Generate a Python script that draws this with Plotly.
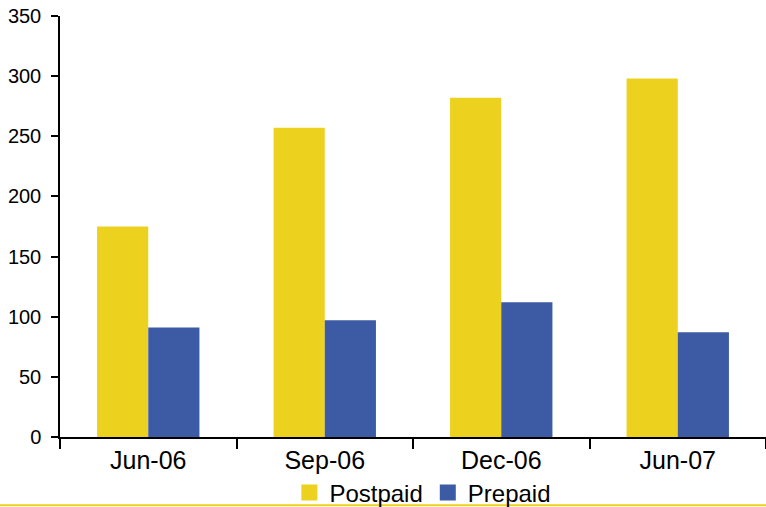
import plotly.graph_objects as go

# Subscribers by quarter (thousands)
quarters = ["Jun-06", "Sep-06", "Dec-06", "Jun-07"]
postpaid = [175, 257, 282, 298]
prepaid = [91, 97, 112, 87]
y_ticks = [0, 50, 100, 150, 200, 250, 300, 350]

YELLOW = "#ECD11E"
BLUE = "#3C5BA4"
REGULAR = "Liberation Sans, Arial, sans-serif"

fig = go.Figure()
fig.add_trace(go.Bar(x=quarters, y=postpaid, name="Postpaid",
                     marker=dict(color=YELLOW, line=dict(width=0)), showlegend=False))
fig.add_trace(go.Bar(x=quarters, y=prepaid, name="Prepaid",
                     marker=dict(color=BLUE, line=dict(width=0)), showlegend=False))

# Legend entries with larger square swatches
for name, color in [("Postpaid", YELLOW), ("Prepaid", BLUE)]:
    fig.add_trace(go.Scatter(x=[None], y=[None], mode="markers", name=name,
                             marker=dict(symbol="square", size=17, color=color,
                                         line=dict(width=0))))

fig.update_layout(
    width=766, height=507,
    margin=dict(l=60, r=0, t=16, b=70, autoexpand=False),
    paper_bgcolor="white", plot_bgcolor="white",
    barmode="group", bargap=0.42, bargroupgap=0,
    font=dict(family=REGULAR, color="black"),
    legend=dict(orientation="h", x=0.514, xanchor="center", y=-0.133, yanchor="middle",
                font=dict(family=REGULAR, size=24, color="black"),
                itemwidth=30, tracegroupgap=0, bgcolor="rgba(0,0,0,0)"),
    xaxis=dict(showline=True, linecolor="black", linewidth=1.5,
               ticks="outside", ticklen=10, tickwidth=1.5, tickcolor="black",
               tickson="boundaries", showgrid=False, zeroline=False,
               tickfont=dict(family=REGULAR, size=25, color="black")),
    yaxis=dict(range=[0, 350], tickvals=y_ticks, showline=True, linecolor="black",
               linewidth=1.5, ticks="outside", ticklen=7, tickwidth=1.5,
               tickcolor="black", showgrid=False, zeroline=False,
               ticklabelstandoff=6,
               tickfont=dict(family=REGULAR, size=20, color="black")),
    shapes=[dict(type="line", xref="paper", yref="paper",
                 x0=-0.09, x1=1.0, y0=-0.162, y1=-0.162,
                 line=dict(color=YELLOW, width=2))],
)

fig.write_html("out.html")
